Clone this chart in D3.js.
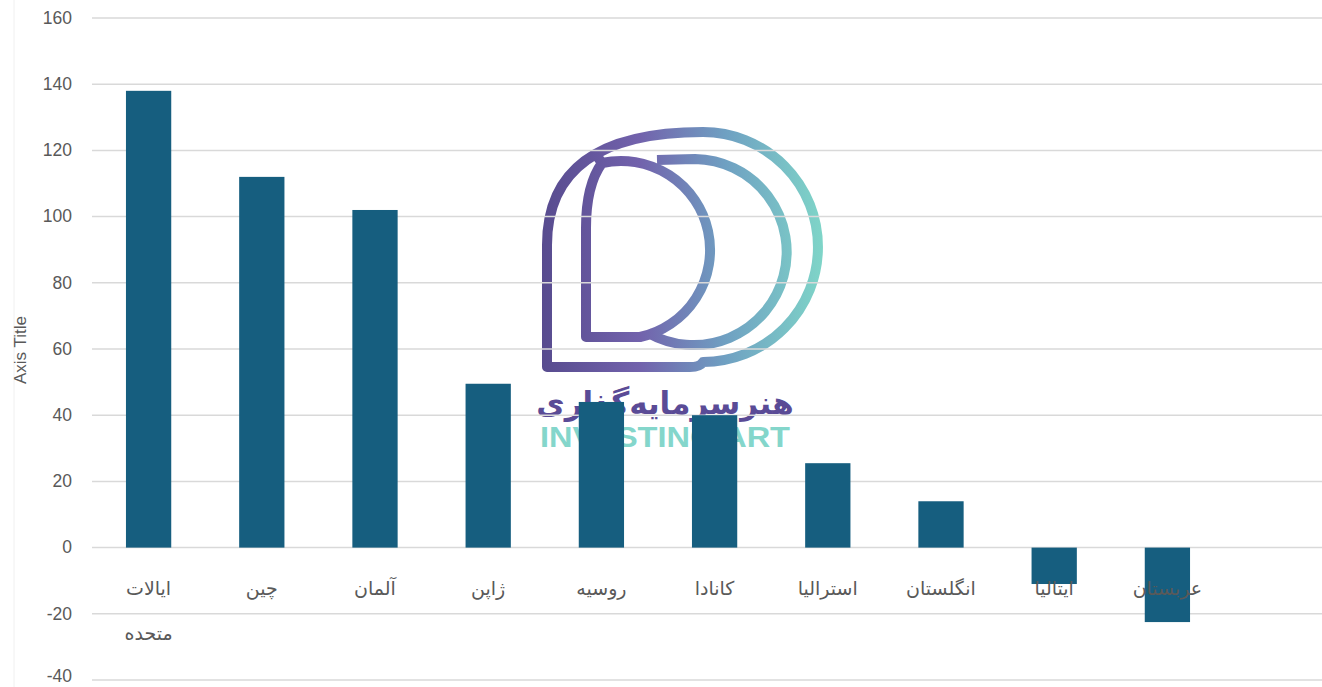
<!DOCTYPE html>
<html>
<head>
<meta charset="utf-8">
<script src="https://cdn.jsdelivr.net/npm/d3@7"></script>
<style>
  body { margin: 0; background: #fff; }
  svg { display: block; }
</style>
</head>
<body>
<svg id="chart" width="1322" height="687"></svg>
<script>
// ---- data ----
const categories = [["ایالات", "متحده"], ["چین"], ["آلمان"], ["ژاپن"], ["روسیه"], ["کانادا"], ["استرالیا"], ["انگلستان"], ["ایتالیا"], ["عربستان"]];
const values = [138, 112, 102, 49.5, 44, 40, 25.5, 14, -11, -22.5];
const yTicks = [-40, -20, 0, 20, 40, 60, 80, 100, 120, 140, 160];
const yTitle = "Axis Title";
const logoTextFa = "هنرسرمایه‌گذاری";
const logoTextEn = "INVESTING ART";

const svg = d3.select("#chart");
const W = 1322, H = 687;
const plotLeft = 92;

const keys = categories.map((c, i) => "c" + i);
const x = d3.scaleBand().domain(keys).range([plotLeft, plotLeft + 113.2 * keys.length]).paddingInner(0.6).paddingOuter(0.3);
const y = d3.scaleLinear().domain([-40, 160]).range([680, 18]);

// faint chart border
svg.append("line").attr("x1", 14).attr("x2", 14).attr("y1", 0).attr("y2", H)
  .attr("stroke", "#f0f0f0").attr("stroke-width", 1);

// ---- watermark logo ----
const defs = svg.append("defs");
const grad = defs.append("linearGradient").attr("id", "lg").attr("gradientUnits", "userSpaceOnUse")
  .attr("x1", 540).attr("y1", 0).attr("x2", 825).attr("y2", 0);
grad.append("stop").attr("offset", "0%").attr("stop-color", "#574b8e");
grad.append("stop").attr("offset", "35%").attr("stop-color", "#7262ac");
grad.append("stop").attr("offset", "65%").attr("stop-color", "#6fa0c2");
grad.append("stop").attr("offset", "100%").attr("stop-color", "#7fd6c8");

const logo = svg.append("g").attr("fill", "none").attr("stroke", "url(#lg)").attr("stroke-width", 10).attr("stroke-linejoin", "round");
// outer drop shape
logo.append("path").attr("d", "M547,367 L547,245 Q547,132 703,132 A115,115 0 0 1 703,362 Q700,367 690,367 Z");
// middle D
logo.append("path").attr("d", "M586,337 L586,228 Q586,185 602,163 A89,89 0 0 1 640,337 Z");
logo.append("path").attr("d", "M602,163 L594,152");
// right D
logo.append("path").attr("d", "M657,160 L695,159 A93,93 0 1 1 648,333");

svg.append("text").attr("x", 665).attr("y", 414).attr("text-anchor", "middle")
  .attr("font-family", "DejaVu Sans").attr("font-weight", "bold").attr("font-size", 31)
  .attr("fill", "#5a4b96").text(logoTextFa);
svg.append("text").attr("x", 665).attr("y", 447).attr("text-anchor", "middle")
  .attr("font-family", "Liberation Sans, Arial").attr("font-weight", "bold").attr("font-size", 29)
  .attr("textLength", 250).attr("lengthAdjust", "spacingAndGlyphs")
  .attr("fill", "#84d6cb").text(logoTextEn);

// ---- gridlines ----
svg.append("g").selectAll("line").data(yTicks).join("line")
  .attr("x1", plotLeft).attr("x2", W)
  .attr("y1", d => y(d)).attr("y2", d => y(d))
  .attr("stroke", "#d9d9d9").attr("stroke-width", 1.5);

// ---- y axis labels ----
const yAxis = d3.axisLeft(y).tickValues(yTicks).tickSize(0).tickPadding(0).tickFormat(d => String(d));
const yg = svg.append("g").attr("transform", "translate(72,0)").call(yAxis);
yg.select(".domain").remove();
yg.selectAll("text").attr("font-family", "Liberation Sans, Arial").attr("font-size", 17.5).attr("fill", "#595959")
  .attr("dy", d => d === -40 ? "0.1em" : "0.3em");

svg.append("text").attr("transform", "translate(26,350) rotate(-90)").attr("text-anchor", "middle")
  .attr("font-family", "Liberation Sans, Arial").attr("font-size", 17).attr("fill", "#595959").text(yTitle);

// ---- bars ----
svg.append("g").selectAll("rect").data(values).join("rect")
  .attr("x", (d, i) => x(keys[i]))
  .attr("width", x.bandwidth())
  .attr("y", d => y(Math.max(0, d)))
  .attr("height", d => Math.abs(y(d) - y(0)))
  .attr("fill", "#165e7f");

// ---- category labels ----
const lab = svg.append("g").selectAll("text").data(categories).join("text")
  .attr("text-anchor", "middle")
  .attr("font-family", "DejaVu Sans")
  .attr("font-size", 19)
  .attr("fill", "#595959");
lab.each(function(d, i) {
  const t = d3.select(this);
  d.forEach((line, j) => {
    t.append("tspan").attr("x", x(keys[i]) + x.bandwidth() / 2).attr("y", 595 + j * 45).text(line);
  });
});
</script>
</body>
</html>
